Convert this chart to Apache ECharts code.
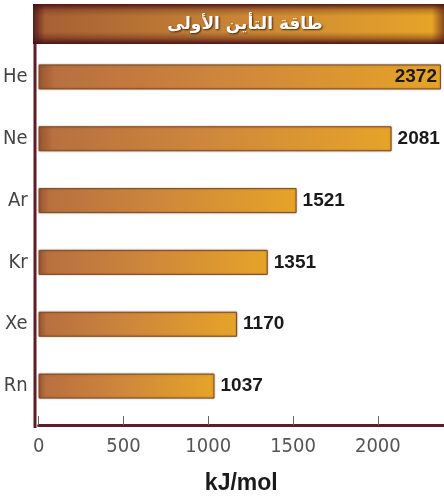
<!DOCTYPE html>
<html>
<head>
<meta charset="utf-8">
<script src="https://cdn.jsdelivr.net/npm/echarts@6/dist/echarts.min.js"></script>
<style>
html,body{margin:0;padding:0;background:#fff;}
#chart{width:444px;height:500px;}
</style>
</head>
<body>
<div id="chart"></div>
<script>
var titleText = 'طاقة التأين الأولى';
var axisName = 'kJ/mol';
var elements = ['He', 'Ne', 'Ar', 'Kr', 'Xe', 'Rn'];
var energies = [2372, 2081, 1521, 1351, 1170, 1037];
var xTicks = [0, 500, 1000, 1500, 2000];

var chart = echarts.init(document.getElementById('chart'), null, {renderer: 'canvas'});
var maroon = '#5e1c26';
var narrow = "'Liberation Sans Narrow', 'DejaVu Sans Condensed', sans-serif";

var option = {
  backgroundColor: '#ffffff',
  animation: false,
  grid: {left: 35, right: 0, top: 46, height: 373, containLabel: false},
  xAxis: {
    type: 'value',
    min: 0,
    max: 2390,
    interval: 500,
    offset: 8,
    name: axisName,
    nameLocation: 'middle',
    nameGap: 47,
    nameTextStyle: {fontFamily: "'Liberation Sans', sans-serif", fontWeight: 'bold', fontSize: 23, color: '#1a1a1a'},
    axisLine: {show: true, lineStyle: {color: maroon, width: 3}},
    axisTick: {show: true, inside: true, length: 9, lineStyle: {color: '#666', width: 1}},
    splitLine: {show: false},
    axisLabel: {
      showMaxLabel: false,
      margin: 12,
      fontFamily: narrow,
      fontSize: 20,
      color: '#555',
      formatter: function (v) { return xTicks.indexOf(v) >= 0 ? String(v) : ''; }
    }
  },
  yAxis: {
    type: 'category',
    data: elements,
    inverse: true,
    axisLine: {show: false},
    axisTick: {show: false},
    axisLabel: {margin: 11, fontFamily: narrow, fontSize: 20, color: '#444'}
  },
  series: [{
    type: 'bar',
    data: energies.map(function (v, i) {
      return {
        value: v,
        label: i === 0 ? {position: 'insideRight', distance: 4} : {position: 'right', distance: 6}
      };
    }),
    barWidth: 25,
    itemStyle: {
      color: new echarts.graphic.LinearGradient(0, 0, 1, 0, [
        {offset: 0, color: '#9a5430'},
        {offset: 0.04, color: '#b8703f'},
        {offset: 0.45, color: '#cd863c'},
        {offset: 1, color: '#e6a428'}
      ]),
      borderColor: '#7e4a22',
      borderWidth: 1,
      shadowColor: 'rgba(60,30,0,0.35)',
      shadowBlur: 2
    },
    label: {
      show: true,
      fontFamily: "'Liberation Sans', sans-serif",
      fontWeight: 'bold',
      fontSize: 19,
      color: '#1a1a1a'
    }
  }],
  graphic: [
    {
      type: 'rect', z: 10,
      shape: {x: 33, y: 4, width: 411, height: 40},
      style: {
        fill: new echarts.graphic.LinearGradient(0, 0, 1, 0, [
          {offset: 0, color: '#a45e34'},
          {offset: 0.5, color: '#c98535'},
          {offset: 1, color: '#e8a628'}
        ])
      }
    },
    {
      type: 'rect', z: 11,
      shape: {x: 33, y: 4, width: 411, height: 40},
      style: {
        fill: new echarts.graphic.LinearGradient(0, 0, 0, 1, [
          {offset: 0, color: 'rgba(70,15,20,0.9)'},
          {offset: 0.15, color: 'rgba(70,15,20,0.25)'},
          {offset: 0.3, color: 'rgba(70,15,20,0)'},
          {offset: 0.7, color: 'rgba(70,15,20,0)'},
          {offset: 0.85, color: 'rgba(70,15,20,0.35)'},
          {offset: 1, color: 'rgba(70,15,20,0.95)'}
        ])
      }
    },
    {
      type: 'rect', z: 11,
      shape: {x: 33, y: 4, width: 12, height: 40},
      style: {
        fill: new echarts.graphic.LinearGradient(0, 0, 1, 0, [
          {offset: 0, color: 'rgba(70,15,20,0.8)'},
          {offset: 1, color: 'rgba(70,15,20,0)'}
        ])
      }
    },
    {
      type: 'rect', z: 11,
      shape: {x: 432, y: 4, width: 12, height: 40},
      style: {
        fill: new echarts.graphic.LinearGradient(0, 0, 1, 0, [
          {offset: 0, color: 'rgba(70,15,20,0)'},
          {offset: 1, color: 'rgba(70,15,20,0.6)'}
        ])
      }
    },
    {
      type: 'text', z: 12,
      style: {
        x: 245, y: 25,
        text: titleText,
        align: 'center',
        verticalAlign: 'middle',
        fontFamily: "'DejaVu Sans', sans-serif",
        fontWeight: 'bold',
        fontSize: 17,
        fill: '#ffffff',
        textShadowColor: 'rgba(40,10,0,0.8)',
        textShadowBlur: 2,
        textShadowOffsetX: 1,
        textShadowOffsetY: 1
      }
    },
    {
      type: 'rect', z: 5,
      shape: {x: 33.5, y: 44, width: 3, height: 384},
      style: {fill: maroon}
    }
  ]
};
chart.setOption(option);
</script>
</body>
</html>
